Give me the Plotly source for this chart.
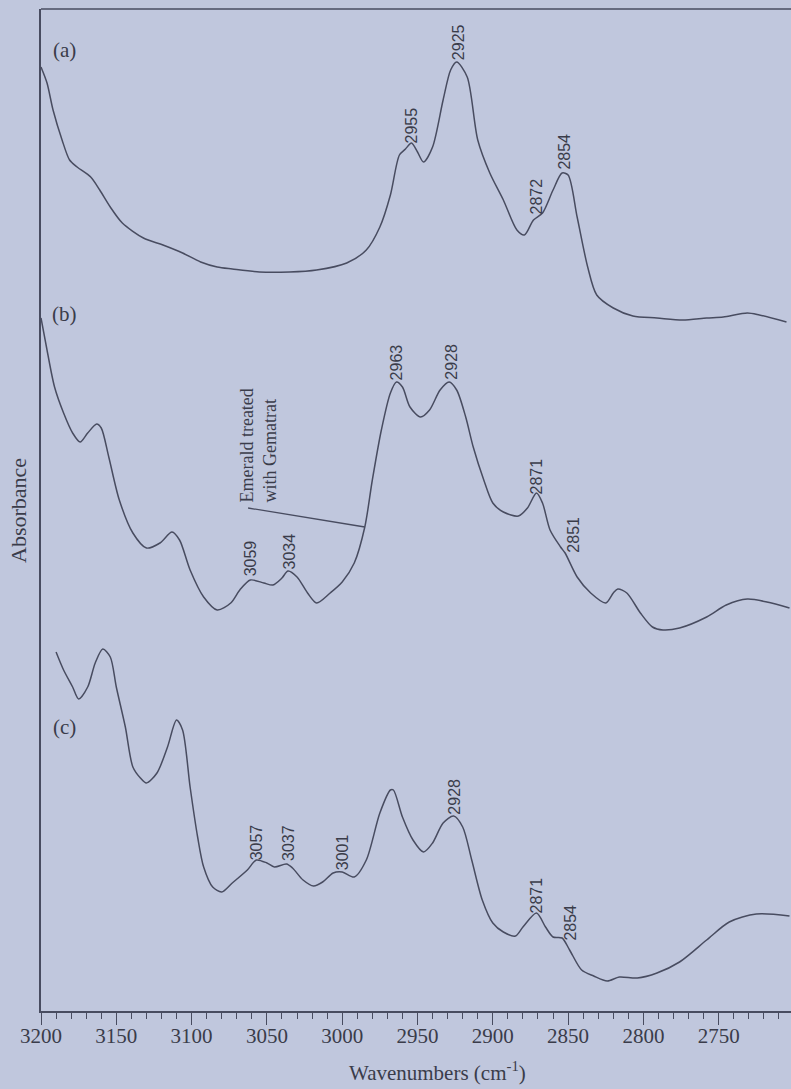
import plotly.graph_objects as go

# ---------------- data (arbitrary absorbance units) ----------------
wn_a = [3200, 3196, 3192, 3186, 3181, 3176, 3167, 3161, 3154, 3146, 3132, 3119, 3106, 3094,
        3083, 3073, 3055, 3035, 3017, 2997, 2984, 2975, 2968, 2962, 2958, 2954, 2950, 2946,
        2940, 2933, 2928, 2924, 2917, 2910, 2902, 2893, 2884, 2879, 2873, 2867, 2860, 2854,
        2850, 2844, 2837, 2831, 2820, 2807, 2791, 2774, 2758, 2747, 2731, 2723, 2705]
abs_a = [945, 929, 902, 872, 852, 845, 835, 822, 805, 789, 774, 767, 759, 750,
         745, 743, 740, 740, 742, 749, 762, 785, 817, 857, 863, 869, 860, 850,
         865, 912, 942, 950, 935, 872, 839, 812, 782, 777, 792, 799, 822, 839,
         837, 795, 745, 717, 704, 696, 694, 692, 694, 695, 699, 697, 690]

wn_b = [3200, 3196, 3191, 3185, 3179, 3174, 3169, 3163, 3160, 3155, 3148, 3139, 3130, 3121,
        3113, 3108, 3101, 3092, 3083, 3074, 3068, 3061, 3052, 3046, 3040, 3036, 3030, 3023,
        3017, 3008, 3000, 2992, 2985, 2980, 2974, 2968, 2964, 2960, 2955, 2948, 2942, 2935,
        2929, 2924, 2918, 2913, 2906, 2900, 2893, 2883, 2877, 2871, 2867, 2862, 2855, 2852,
        2844, 2835, 2825, 2820, 2817, 2811, 2802, 2794, 2787, 2776, 2758, 2745, 2731, 2718, 2703]
abs_b = [694, 662, 625, 599, 579, 570, 579, 588, 584, 555, 512, 479, 464, 469,
         480, 472, 442, 415, 402, 409, 422, 432, 429, 427, 434, 441, 435, 419,
         409, 419, 430, 449, 485, 532, 582, 619, 630, 625, 605, 595, 602, 622,
         630, 622, 595, 565, 532, 509, 500, 496, 504, 519, 509, 482, 465, 459,
         435, 419, 409, 419, 423, 419, 399, 385, 382, 384, 395, 407, 413, 410, 404]

wn_c = [3190, 3185, 3179, 3175, 3169, 3164, 3159, 3154, 3150, 3144, 3139, 3134, 3130, 3123,
        3116, 3110, 3106, 3101, 3096, 3092, 3086, 3080, 3073, 3063, 3057, 3050, 3045, 3037,
        3033, 3026, 3019, 3013, 3006, 3000, 2992, 2984, 2975, 2968, 2966, 2960, 2953, 2946,
        2940, 2933, 2926, 2920, 2914, 2907, 2900, 2893, 2885, 2880, 2871, 2865, 2860, 2854,
        2849, 2841, 2833, 2824, 2816, 2804, 2791, 2776, 2758, 2743, 2725, 2703]
abs_c = [360, 342, 325, 313, 325, 349, 363, 355, 325, 285, 245, 234, 229, 239,
         265, 292, 282, 225, 175, 145, 125, 120, 129, 142, 152, 149, 145, 148,
         144, 132, 126, 130, 139, 140, 135, 152, 199, 222, 222, 195, 172, 160,
         169, 189, 196, 185, 152, 112, 89, 80, 76, 85, 99, 85, 75, 74,
         62, 42, 36, 31, 35, 34, 39, 50, 72, 90, 98, 96]

# peak labels: (text, wavenumber, height)
peaks_a = [("2955", 2954, 887), ("2925", 2923, 970), ("2872", 2871, 816), ("2854", 2853, 860)]
peaks_b = [("3059", 3061, 454), ("3034", 3035, 461), ("2963", 2964, 650), ("2928", 2928, 650),
           ("2871", 2871, 536), ("2851", 2847, 477)]
peaks_c = [("3057", 3057, 170), ("3037", 3036, 169), ("3001", 3000, 160), ("2928", 2926, 215),
           ("2871", 2871, 117), ("2854", 2849, 89)]

tick_vals = [3200, 3150, 3100, 3050, 3000, 2950, 2900, 2850, 2800, 2750]
tick_text = [str(v) for v in tick_vals]

# ---------------- styling ----------------
BG = "rgb(192,199,221)"
LINE = "rgb(72,76,96)"
TXT = "rgb(58,60,74)"
SERIF = "Liberation Serif, Times New Roman, serif"
SANS = "Liberation Sans Narrow, Arial Narrow, Liberation Sans, sans-serif"

fig = go.Figure()
for wn, ab in [(wn_a, abs_a), (wn_b, abs_b), (wn_c, abs_c)]:
    fig.add_trace(go.Scatter(x=wn, y=ab, mode="lines",
                             line=dict(color=LINE, width=1.5, shape="spline", smoothing=0.8),
                             hoverinfo="skip", showlegend=False))

ann = []
for grp in (peaks_a, peaks_b, peaks_c):
    for t, x, y in grp:
        ann.append(dict(text=t, x=x, y=y, xref="x", yref="y", showarrow=False, textangle=-90,
                        xanchor="center", yanchor="middle",
                        font=dict(family=SANS, size=16, color=TXT)))

for t, y in [("(a)", 962), ("(b)", 698), ("(c)", 285)]:
    ann.append(dict(text=t, x=3184.5, y=y, xref="x", yref="y", showarrow=False,
                    xanchor="center", yanchor="middle",
                    font=dict(family=SERIF, size=21, color=TXT)))

ann.append(dict(text="Emerald treated<br>with Gematrat", x=3056.2, y=566, xref="x", yref="y",
                showarrow=False, textangle=-90, align="left", xanchor="center", yanchor="middle",
                font=dict(family=SERIF, size=18, color=TXT)))
ann.append(dict(text="Absorbance", x=-0.0307, y=502, xref="paper", yref="y", showarrow=False,
                textangle=-90, xanchor="center", yanchor="middle",
                font=dict(family=SERIF, size=22, color=TXT)))
ann.append(dict(text="Wavenumbers (cm<sup>-1</sup>)", x=2936.4, y=-0.0755, xref="x", yref="paper",
                showarrow=False, xanchor="center", yanchor="bottom",
                font=dict(family=SERIF, size=21, color=TXT)))

shapes = [
    dict(type="line", xref="paper", yref="paper", x0=0, x1=1, y0=1, y1=1,
         line=dict(color=LINE, width=1.5)),
    dict(type="line", xref="x", yref="y", x0=3062.5, y0=504, x1=2985, y1=485,
         line=dict(color=LINE, width=1.3)),
]

fig.update_layout(
    width=791, height=1089,
    margin=dict(l=41, r=0, t=9, b=78),
    paper_bgcolor=BG, plot_bgcolor=BG,
    annotations=ann, shapes=shapes,
    xaxis=dict(range=[3200, 2702], showgrid=False, zeroline=False,
               showline=True, linecolor=LINE, linewidth=1.5,
               ticks="outside", ticklen=12, tickwidth=1.3, tickcolor=LINE,
               tickvals=tick_vals, ticktext=tick_text, ticklabelstandoff=-7,
               tickfont=dict(family=SERIF, size=21, color=TXT),
               minor=dict(dtick=10, tick0=3200, ticks="outside", ticklen=6,
                          tickwidth=1.2, tickcolor=LINE, showgrid=False)),
    yaxis=dict(range=[1, 1003], showgrid=False, zeroline=False, showticklabels=False,
               showline=True, linecolor=LINE, linewidth=1.5, ticks=""),
)

fig.write_html("out.html")
